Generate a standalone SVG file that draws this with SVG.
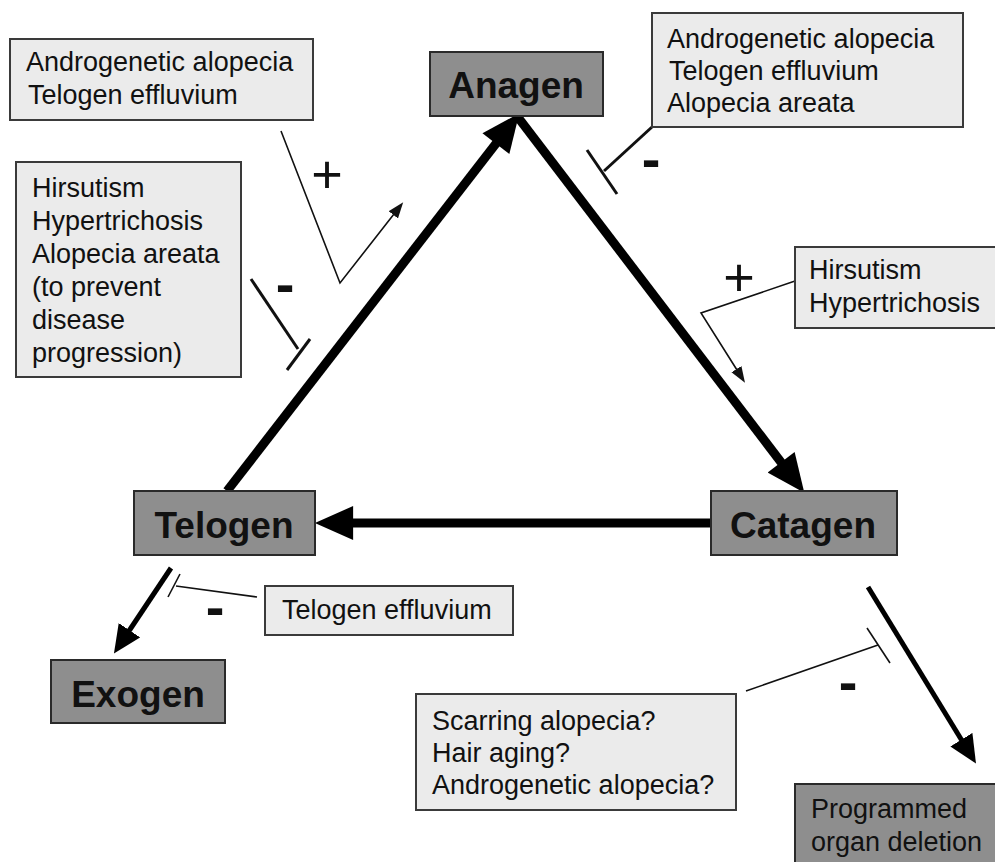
<svg xmlns="http://www.w3.org/2000/svg" width="995" height="862" viewBox="0 0 995 862">
<style>
.node{fill:#8e8e8e;stroke:#2a2a2a;stroke-width:2}
.note{fill:#ebebeb;stroke:#3a3a3a;stroke-width:2}
.nl{font-family:"Liberation Sans",Arial,sans-serif;font-weight:bold;font-size:37px;fill:#111;text-anchor:middle}
.tx{font-family:"Liberation Sans",Arial,sans-serif;font-size:27px;fill:#111}
.plus{font-family:"Liberation Sans",Arial,sans-serif;font-size:54px;fill:#111;text-anchor:middle}
.minus{font-family:"Liberation Sans",Arial,sans-serif;font-weight:bold;font-size:56px;fill:#111;text-anchor:middle}
.thick{stroke:#000;stroke-width:9;fill:none}
.med{stroke:#000;stroke-width:5;fill:none}
.thin{stroke:#111;stroke-width:1.6;fill:none}
.inh{stroke:#111;stroke-width:3;fill:none}
</style>
<defs>
<marker id="bigHead" markerUnits="userSpaceOnUse" markerWidth="40" markerHeight="34" viewBox="0 0 36 32" refX="2" refY="16" orient="auto">
<path d="M0,0 L36,16 L0,32 z" fill="#000"/>
</marker>
<marker id="midHead" markerUnits="userSpaceOnUse" markerWidth="28" markerHeight="26" viewBox="0 0 26 24" refX="2" refY="12" orient="auto">
<path d="M0,0 L26,12 L0,24 z" fill="#000"/>
</marker>
<marker id="smallHead" markerUnits="userSpaceOnUse" markerWidth="16" markerHeight="12" viewBox="0 0 15 11" refX="1" refY="5.5" orient="auto">
<path d="M0,0 L15,5.5 L0,11 z" fill="#111"/>
</marker>
</defs>
<rect width="995" height="862" fill="#fff"/>

<g id="connectors">
<line class="thick" x1="227" y1="491" x2="497.2" y2="141.9" marker-end="url(#bigHead)"/>
<line class="thick" x1="517" y1="116" x2="782.4" y2="464" marker-end="url(#bigHead)"/>
<line class="thick" x1="711" y1="523" x2="351" y2="523" marker-end="url(#bigHead)"/>
<line class="med" x1="171" y1="568" x2="128.3" y2="632" marker-end="url(#midHead)"/>
<line class="med" x1="868" y1="587" x2="962.5" y2="741.5" marker-end="url(#midHead)"/>
<polyline class="thin" points="281,131 340,283 394,214" marker-end="url(#smallHead)"/>
<polyline class="thin" points="795,281 701,313 737,370" marker-end="url(#smallHead)"/>
<line class="inh" x1="251" y1="279" x2="298" y2="349"/>
<line class="inh" x1="287" y1="370" x2="310" y2="339"/>
<line class="inh" x1="652" y1="127" x2="604" y2="171"/>
<line class="inh" x1="587" y1="150" x2="617" y2="194"/>
<line class="thin" x1="257" y1="597" x2="176" y2="586"/>
<line class="thin" x1="180" y1="574" x2="168" y2="597"/>
<line class="thin" x1="746" y1="691" x2="878" y2="645"/>
<line class="thin" x1="867" y1="628" x2="890" y2="663"/>
<text class="plus" x="327" y="193">+</text>
<text class="plus" x="739" y="296">+</text>
<text class="minus" x="285" y="303">-</text>
<text class="minus" x="651" y="178">-</text>
<text class="minus" x="215" y="626">-</text>
<text class="minus" x="848" y="701">-</text>
</g>

<g id="anagen">
<rect class="node" x="430" y="52" width="173" height="64"/>
<text class="nl" x="516" y="98">Anagen</text>
</g>
<g id="catagen">
<rect class="node" x="711" y="491" width="186" height="64"/>
<text class="nl" x="803" y="538">Catagen</text>
</g>
<g id="telogen">
<rect class="node" x="134" y="491" width="181" height="64"/>
<text class="nl" x="224" y="538">Telogen</text>
</g>
<g id="exogen">
<rect class="node" x="51" y="660" width="174" height="63"/>
<text class="nl" x="138" y="707">Exogen</text>
</g>
<g id="programmed">
<rect class="node" x="795" y="784" width="210" height="90"/>
<text class="tx" x="811" y="818">Programmed</text>
<text class="tx" x="811" y="851">organ deletion</text>
</g>

<g id="note-anagen-plus">
<rect class="note" x="10" y="39" width="303" height="81"/>
<text class="tx" x="26" y="71">Androgenetic alopecia</text>
<text class="tx" x="28" y="104">Telogen effluvium</text>
</g>
<g id="note-anagen-minus">
<rect class="note" x="16" y="162" width="225" height="215"/>
<text class="tx" x="32" y="197">Hirsutism</text>
<text class="tx" x="32" y="230">Hypertrichosis</text>
<text class="tx" x="32" y="263">Alopecia areata</text>
<text class="tx" x="32" y="296">(to prevent</text>
<text class="tx" x="32" y="329">disease</text>
<text class="tx" x="32" y="362">progression)</text>
</g>
<g id="note-catagen-minus">
<rect class="note" x="652" y="13" width="311" height="114"/>
<text class="tx" x="667" y="48">Androgenetic alopecia</text>
<text class="tx" x="669" y="80">Telogen effluvium</text>
<text class="tx" x="667" y="112">Alopecia areata</text>
</g>
<g id="note-catagen-plus">
<rect class="note" x="795" y="247" width="210" height="81"/>
<text class="tx" x="809" y="279">Hirsutism</text>
<text class="tx" x="809" y="312">Hypertrichosis</text>
</g>
<g id="note-exogen">
<rect class="note" x="265" y="586" width="248" height="49"/>
<text class="tx" x="282" y="619">Telogen effluvium</text>
</g>
<g id="note-deletion">
<rect class="note" x="416" y="694" width="320" height="116"/>
<text class="tx" x="432" y="730">Scarring alopecia?</text>
<text class="tx" x="432" y="762">Hair aging?</text>
<text class="tx" x="432" y="794">Androgenetic alopecia?</text>
</g>
</svg>
